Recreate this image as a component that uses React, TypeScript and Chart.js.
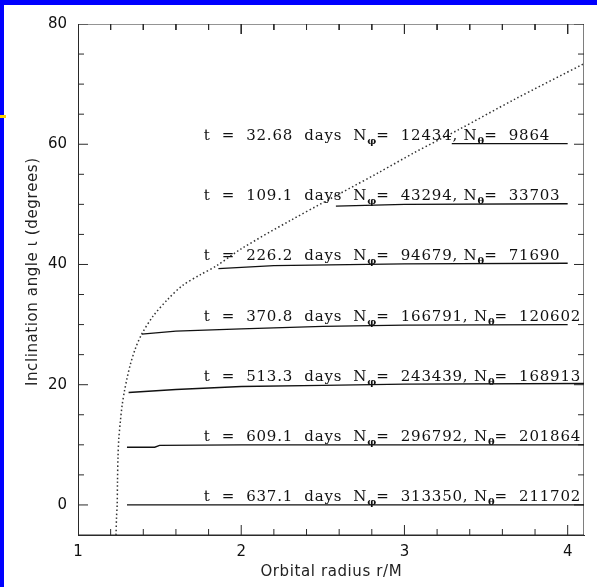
import React, { useEffect, useRef } from 'react';
import { Chart, registerables } from 'chart.js';

Chart.register(...registerables);

// Dotted curve (inner edge) : orbital radius r/M vs inclination (degrees)
const CURVE_R = [1.233, 1.236, 1.24, 1.242, 1.245, 1.25, 1.26, 1.27, 1.285, 1.3, 1.32, 1.35, 1.39, 1.46, 1.55, 1.64, 1.75, 1.85, 2.0, 2.3, 2.85, 3.06, 3.33, 3.67, 4.1];
const CURVE_I = [-5, -2, 0, 4, 8, 11, 14, 16.5, 19, 21, 23.3, 25.9, 28.4, 31.4, 34.2, 36.5, 38.3, 39.8, 42.6, 47.3, 55.4, 58.6, 62.4, 67.4, 73.4];

// Inclination profiles at successive times
const LEVELS = [60, 50, 40, 30, 20, 10, 0];
const PROFILE_R = [
  [3.29, 4.0],
  [2.58, 3.0, 4.0],
  [1.86, 2.2, 3.0, 4.0],
  [1.39, 1.6, 2.0, 2.5, 3.0, 4.0],
  [1.31, 1.6, 2.0, 2.5, 3.0, 4.1],
  [1.3, 1.47, 1.5, 2.0, 4.1],
  [1.3, 4.1],
];
const PROFILE_I = [
  [60.1, 60.1],
  [49.7, 50.0, 50.1],
  [39.3, 39.8, 40.1, 40.2],
  [28.4, 28.9, 29.3, 29.7, 29.9, 30.0],
  [18.7, 19.2, 19.7, 19.9, 20.1, 20.2],
  [9.6, 9.6, 9.9, 10.0, 10.0],
  [0, 0],
];

const TIMES = ['32.68', '109.1', '226.2', '370.8', '513.3', '609.1', '637.1'];
const N_PHI = ['12434', '43294', '94679', '166791', '243439', '296792', '313350'];
const N_THETA = ['9864', '33703', '71690', '120602', '168913', '201864', '211702'];
const TEXT_R = 1.77;

const X_MIN = 1;
const X_MAX = 4.1;
const Y_MIN = -5;
const Y_MAX = 80;
const X_TICKS = [1, 2, 3, 4];
const X_MINOR = [1.2, 1.4, 1.6, 1.8, 2.2, 2.4, 2.6, 2.8, 3.2, 3.4, 3.6, 3.8];
const Y_TICKS = [0, 20, 40, 60, 80];
const Y_MINOR = [5, 10, 15, 25, 30, 35, 45, 50, 55, 65, 70, 75];

const X_TITLE = 'Orbital radius r/M';
const Y_TITLE = 'Inclination angle \u03b9 (degrees)';

// plot box size in pixels, used to express inward tick lengths in axis units
const PLOT_W = 506;
const PLOT_H = 511;
const XL_MAJ = (10 * (X_MAX - X_MIN)) / PLOT_W;
const XL_MIN = (6 * (X_MAX - X_MIN)) / PLOT_W;
const YL_MAJ = (10 * (Y_MAX - Y_MIN)) / PLOT_H;
const YL_MIN = (6 * (Y_MAX - Y_MIN)) / PLOT_H;

function spacedText(ctx: CanvasRenderingContext2D, s: string, x: number, y: number, spacing: number) {
  for (const ch of s) {
    ctx.fillText(ch, x, y);
    x += ctx.measureText(ch).width + spacing;
  }
  return x;
}

function spacedWidth(ctx: CanvasRenderingContext2D, s: string, spacing: number) {
  let w = 0;
  for (const ch of s) w += ctx.measureText(ch).width + spacing;
  return w - spacing;
}

const textPlugin = {
  id: 'textPlugin',
  afterDraw(chart: any) {
    const ctx = chart.ctx as CanvasRenderingContext2D;
    const xs = chart.scales.x;
    const ys = chart.scales.y;
    ctx.save();
    ctx.fillStyle = '#111';
    ctx.textBaseline = 'alphabetic';
    ctx.textAlign = 'left';
    const mainFont = '15px "DejaVu Serif"';
    const subFont = 'bold 10px "DejaVu Serif"';
    LEVELS.forEach((lv, i) => {
      let x = xs.getPixelForValue(TEXT_R);
      const y = ys.getPixelForValue(lv) - 4;
      const put = (s: string, font: string, dy = 0, sp = 0.8) => {
        ctx.font = font;
        x = spacedText(ctx, s, x, y + dy, sp);
      };
      put('t  =  ' + TIMES[i] + '  days  ', mainFont);
      put('N', mainFont);
      put('\u03c6', subFont, 4, 0);
      put('=  ' + N_PHI[i] + ', ', mainFont);
      put('N', mainFont);
      put('\u03b8', subFont, 4, 0);
      put('=  ' + N_THETA[i], mainFont);
    });

    ctx.fillStyle = '#222';
    ctx.font = '15px "DejaVu Sans"';
    ctx.textBaseline = 'middle';
    const xw = spacedWidth(ctx, X_TITLE, 0.6);
    spacedText(ctx, X_TITLE, (xs.left + xs.right) / 2 - xw / 2, 572, 0.6);
    ctx.translate(33, 272);
    ctx.rotate(-Math.PI / 2);
    const yw = spacedWidth(ctx, Y_TITLE, 0.6);
    spacedText(ctx, Y_TITLE, -yw / 2, 0, 0.6);
    ctx.restore();
  },
};

function seg(points: number[][], width: number) {
  return {
    data: points.map((p) => ({ x: p[0], y: p[1] })),
    showLine: true,
    borderColor: '#2a2a2a',
    borderWidth: width,
    pointRadius: 0,
  };
}

export default function App() {
  const ref = useRef<HTMLCanvasElement | null>(null);
  useEffect(() => {
    if (!ref.current) return;
    const frameSets: any[] = [
      seg([[X_MIN, Y_MIN], [X_MAX, Y_MIN], [X_MAX, Y_MAX], [X_MIN, Y_MAX], [X_MIN, Y_MIN]], 1.2),
    ];
    const addX = (vals: number[], len: number) => {
      vals.forEach((v) => {
        frameSets.push(seg([[v, Y_MIN], [v, Y_MIN + len]], 1));
        frameSets.push(seg([[v, Y_MAX], [v, Y_MAX - len]], 1));
      });
    };
    const addY = (vals: number[], len: number) => {
      vals.forEach((v) => {
        frameSets.push(seg([[X_MIN, v], [X_MIN + len, v]], 1));
        frameSets.push(seg([[X_MAX, v], [X_MAX - len, v]], 1));
      });
    };
    addX(X_TICKS, YL_MAJ);
    addX(X_MINOR, YL_MIN);
    addY(Y_TICKS, XL_MAJ);
    addY(Y_MINOR, XL_MIN);

    const datasets: any[] = [
      {
        label: 'inner edge',
        data: CURVE_R.map((r, k) => ({ x: r, y: CURVE_I[k] })),
        showLine: true,
        borderColor: '#333',
        borderWidth: 1.5,
        borderDash: [1.5, 2.5],
        pointRadius: 0,
        tension: 0.3,
      },
      ...PROFILE_R.map((rs, j) => ({
        label: 't=' + TIMES[j],
        data: rs.map((r, k) => ({ x: r, y: PROFILE_I[j][k] })),
        showLine: true,
        borderColor: '#111',
        borderWidth: 1.3,
        pointRadius: 0,
      })),
      ...frameSets,
    ];
    const chart = new Chart(ref.current, {
      type: 'scatter',
      data: { datasets },
      options: {
        animation: false,
        responsive: false,
        layout: { padding: { top: 24, right: 13, left: 0, bottom: 0 } },
        plugins: { legend: { display: false }, tooltip: { enabled: false } },
        scales: {
          x: {
            type: 'linear',
            min: X_MIN,
            max: X_MAX,
            afterFit: (s: any) => { s.height = 52; },
            afterBuildTicks: (s: any) => { s.ticks = X_TICKS.map((v) => ({ value: v })); },
            grid: { display: true, drawOnChartArea: false, drawTicks: false },
            border: { display: true, color: '#2a2a2a', width: 1 },
            ticks: {
              autoSkip: false,
              maxRotation: 0,
              padding: 8,
              color: '#111',
              font: { family: 'DejaVu Sans', size: 15 },
            },
          },
          y: {
            type: 'linear',
            min: Y_MIN,
            max: Y_MAX,
            afterFit: (s: any) => { s.width = 78; },
            afterBuildTicks: (s: any) => { s.ticks = Y_TICKS.map((v) => ({ value: v })); },
            grid: { display: true, drawOnChartArea: false, drawTicks: false },
            border: { display: true, color: '#2a2a2a', width: 1 },
            ticks: {
              autoSkip: false,
              padding: 11,
              color: '#111',
              font: { family: 'DejaVu Sans', size: 15 },
            },
          },
        },
      },
      plugins: [textPlugin],
    });
    return () => chart.destroy();
  }, []);

  return (
    <div style={{ position: 'fixed', left: 0, top: 0, width: 597, height: 587, background: '#fff' }}>
      <canvas ref={ref} width={597} height={587} style={{ display: 'block' }} />
      <div style={{ position: 'absolute', left: 0, top: 0, width: 597, height: 5, background: '#0000ff' }} />
      <div style={{ position: 'absolute', left: 0, top: 0, width: 4, height: 587, background: '#0000ff' }} />
      <div style={{ position: 'absolute', left: 0, top: 115, width: 6, height: 3, background: '#ffd700' }} />
    </div>
  );
}
